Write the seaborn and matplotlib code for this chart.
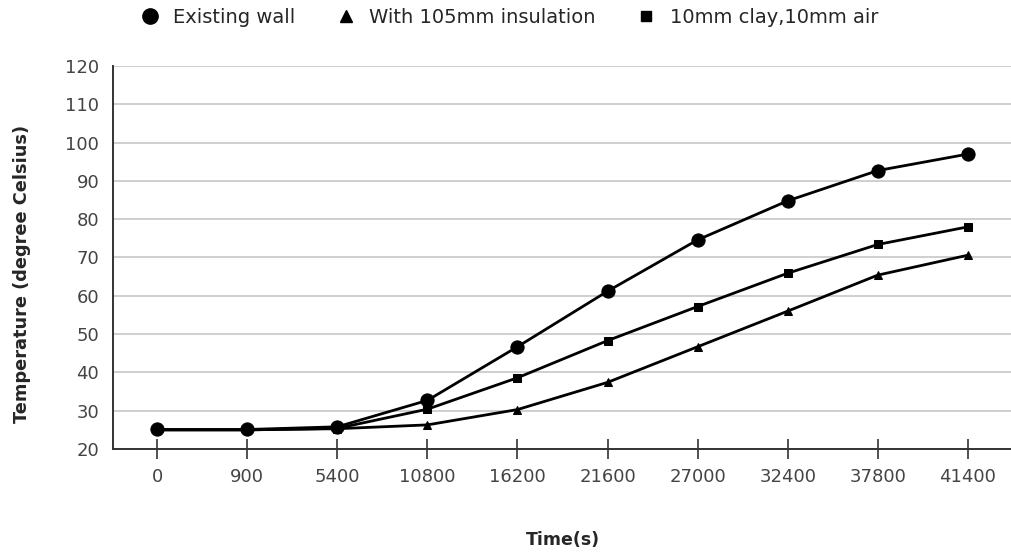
import matplotlib
matplotlib.use("Agg")
import matplotlib.pyplot as plt
from matplotlib.lines import Line2D
import seaborn as sns
import pandas as pd

time_labels = ["0", "900", "5400", "10800", "16200", "21600", "27000", "32400", "37800", "41400"]
existing_wall = [25.1, 25.1, 25.8, 32.7, 46.7, 61.2, 74.6, 84.8, 92.7, 97.0]
insulation_105 = [25.0, 25.0, 25.3, 26.3, 30.3, 37.4, 46.7, 56.0, 65.4, 70.6]
clay_air = [25.0, 25.0, 25.4, 30.4, 38.6, 48.3, 57.2, 65.9, 73.4, 78.0]

series_names = ["Existing wall", "With 105mm insulation", "10mm clay,10mm air"]
series_values = [existing_wall, insulation_105, clay_air]
series_markers = ["o", "^", "s"]
series_msize = [9.5, 6.0, 6.0]

sns.set_theme(style="white")
plt.rcParams["font.family"] = ["DejaVu Sans"]

frames = []
for name, vals in zip(series_names, series_values):
    frames.append(pd.DataFrame({"pos": range(len(time_labels)), "temp": vals, "series": name}))
df = pd.concat(frames, ignore_index=True)

fig = plt.figure(figsize=(10.12, 5.54), dpi=100)
ax = fig.add_axes([0.1117, 0.1895, 0.8883, 0.6914])

# draw the circle series last so it sits on top where the lines overlap
for idx in [1, 2, 0]:
    name = series_names[idx]
    sub = df[df["series"] == name]
    sns.lineplot(data=sub, x="pos", y="temp", ax=ax, color="black", linewidth=2.0,
                 marker=series_markers[idx], markersize=series_msize[idx],
                 markeredgecolor="black", markerfacecolor="black", legend=False)

ax.set_xlim(-0.49, 9.49)
ax.set_ylim(20, 120)
ax.set_yticks(range(20, 121, 10))
ax.set_xticks(range(len(time_labels)))
ax.set_xticklabels(time_labels)

ax.yaxis.grid(True, color="#cccccc", linewidth=1.3)
ax.xaxis.grid(False)
ax.set_axisbelow(True)
for side in ["top", "right"]:
    ax.spines[side].set_visible(False)
for side in ["left", "bottom"]:
    ax.spines[side].set_color("#333333")
    ax.spines[side].set_linewidth(1.4)

ax.tick_params(axis="x", bottom=True, direction="inout", length=15, width=1.2,
               color="#333333", labelsize=13, labelcolor="#444444", pad=6)
ax.tick_params(axis="y", left=False, length=0, labelsize=13, labelcolor="#444444", pad=10)

ax.set_xlabel("Time(s)", fontsize=12.5, fontweight="bold")
ax.set_ylabel("Temperature (degree Celsius)", fontsize=12.8, fontweight="bold")
ax.xaxis.label.set_va("center")
ax.yaxis.label.set_va("center")
ax.xaxis.set_label_coords(0.5, -0.237)
ax.yaxis.set_label_coords(-0.101, 0.457)

handles = [
    Line2D([], [], color="black", linestyle="none", marker="o", markersize=11),
    Line2D([], [], color="black", linestyle="none", marker="^", markersize=9),
    Line2D([], [], color="black", linestyle="none", marker="s", markersize=7.5),
]
fig.legend(handles, series_names, loc="center", bbox_to_anchor=(0.502, 0.968), ncol=3,
           frameon=False, fontsize=14, handletextpad=0.6, columnspacing=2.0,
           handlelength=1.2)

fig.savefig("out.png", dpi=100)
